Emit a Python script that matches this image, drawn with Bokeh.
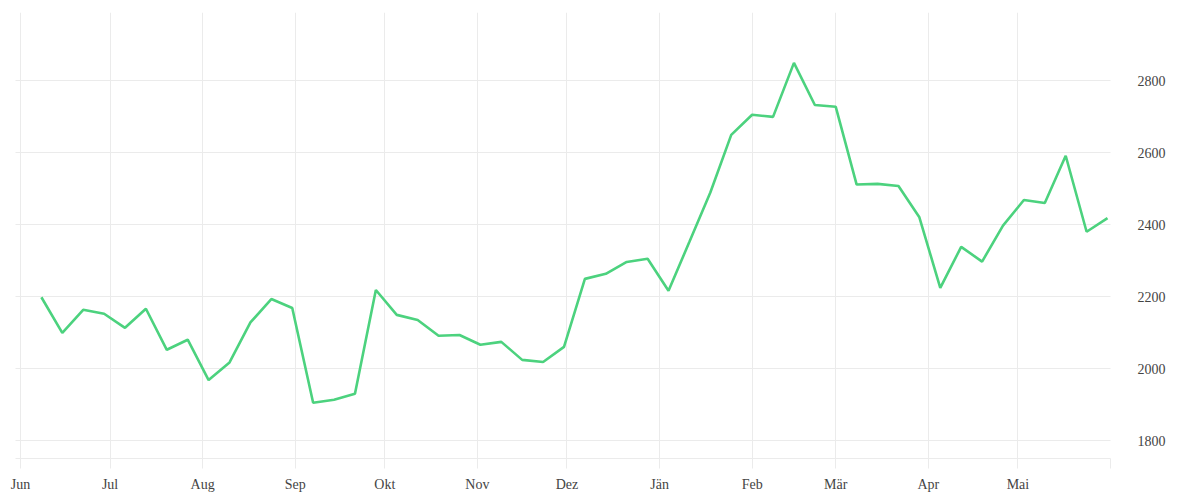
from datetime import datetime, timedelta
from bokeh.plotting import figure
from bokeh.models import Range1d, FixedTicker, LinearAxis, DatetimeAxis, Grid
from bokeh.embed import file_html
from bokeh.resources import INLINE

# Weekly values, 52 weeks starting 2018-06-08
start_date = "2018-06-08"
values = [2199, 2100, 2164, 2153, 2114, 2167, 2053, 2081, 1969, 2018,
          2129, 2194, 2169, 1906, 1914, 1931, 2219, 2150, 2136, 2092,
          2094, 2067, 2075, 2025, 2019, 2061, 2250, 2264, 2297, 2306,
          2217, 2353, 2490, 2650, 2706, 2700, 2850, 2733, 2728, 2512,
          2514, 2508, 2421, 2225, 2339, 2298, 2398, 2469, 2461, 2592,
          2381, 2419]
month_labels = ["Jun", "Jul", "Aug", "Sep", "Okt", "Nov", "Dez",
                "Jän", "Feb", "Mär", "Apr", "Mai", ""]
y_ticks = [1800, 2000, 2200, 2400, 2600, 2800]

d0 = datetime.strptime(start_date, "%Y-%m-%d")
dates = [d0 + timedelta(days=7 * i) for i in range(len(values))]

month_starts = []
y, m = 2018, 6
for _ in range(13):
    month_starts.append(datetime(y, m, 1))
    m += 1
    if m > 12:
        m = 1
        y += 1

def ms(d):
    return (d - datetime(1970, 1, 1)).total_seconds() * 1000.0

tick_ms = [ms(d) for d in month_starts]

x_start = ms(datetime(2018, 6, 1)) - 1.67 * 86400000
x_end = ms(datetime(2019, 6, 1))

FONT = "Liberation Serif"
TXT = "#444444"
GRID = "#ebebeb"

p = figure(frame_width=1095, frame_height=446, output_backend="svg",
           toolbar_location=None, x_axis_type=None, y_axis_location=None,
           x_range=Range1d(x_start, x_end), y_range=Range1d(1751, 2990),
           min_border_left=15, min_border_top=12, min_border_right=10,
           min_border_bottom=5)
p.outline_line_color = None
p.background_fill_color = "white"
p.border_fill_color = "white"

xaxis = DatetimeAxis(ticker=FixedTicker(ticks=tick_ms))
xaxis.major_label_overrides = {t: lab for t, lab in zip(tick_ms, month_labels)}
xaxis.axis_line_color = GRID
xaxis.major_tick_line_color = GRID
xaxis.major_tick_in = 0
xaxis.major_tick_out = 10
xaxis.minor_tick_line_color = None
xaxis.major_label_text_font = FONT
xaxis.major_label_text_font_size = "14px"
xaxis.major_label_text_color = TXT
xaxis.major_label_standoff = 8
p.add_layout(xaxis, "below")

yaxis = LinearAxis(ticker=FixedTicker(ticks=y_ticks))
yaxis.axis_line_color = None
yaxis.major_tick_line_color = None
yaxis.minor_tick_line_color = None
yaxis.major_tick_out = 0
yaxis.major_tick_in = 0
yaxis.major_label_text_font = FONT
yaxis.major_label_text_font_size = "14px"
yaxis.major_label_text_color = TXT
yaxis.major_label_standoff = 27
p.add_layout(yaxis, "right")

p.add_layout(Grid(dimension=0, ticker=FixedTicker(ticks=tick_ms), grid_line_color=GRID))
p.add_layout(Grid(dimension=1, ticker=FixedTicker(ticks=y_ticks), grid_line_color=GRID))

p.line(dates, values, line_color="#4cd27e", line_width=2.6)

open("out.html", "w").write(file_html(p, INLINE))
